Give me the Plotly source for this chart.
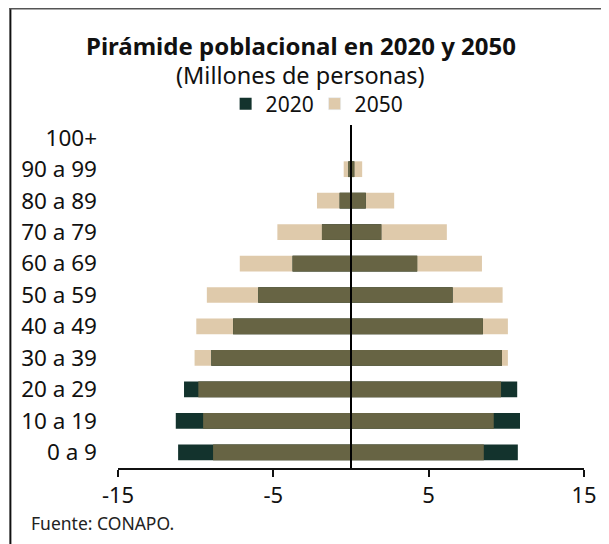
import plotly.graph_objects as go

categorias = ["0 a 9", "10 a 19", "20 a 29", "30 a 39", "40 a 49", "50 a 59",
              "60 a 69", "70 a 79", "80 a 89", "90 a 99", "100+"]
izq_2020 = [11.13, 11.28, 10.75, 8.99, 7.59, 5.97, 3.76, 1.87, 0.73, 0.17, 0.01]
izq_2050 = [8.88, 9.52, 9.83, 10.07, 9.96, 9.28, 7.16, 4.74, 2.19, 0.47, 0.03]
der_2020 = [10.74, 10.88, 10.70, 9.72, 8.49, 6.54, 4.26, 1.95, 0.95, 0.21, 0.01]
der_2050 = [8.55, 9.19, 9.66, 10.10, 10.10, 9.76, 8.43, 6.17, 2.78, 0.72, 0.04]
x_ticks = [-15, -5, 5, 15]

C2020 = "#13332d"
C2050 = "#dfcaab"
COVER = "#676444"
FONT = "Noto Sans"

fig = go.Figure()

def add(vals, color, name, show, group):
    fig.add_trace(go.Bar(y=categorias, x=vals, orientation="h", marker_color=color,
                         marker_line_width=0, name=name, showlegend=show,
                         legendgroup=group, hoverinfo="skip"))

add([-v for v in izq_2050], C2050, "2050", False, "2050")
add(der_2050, C2050, "2050", False, "2050")
add([-v for v in izq_2020], C2020, "2020", True, "2020")
add(der_2020, C2020, "2020", False, "2020")
ov_izq = [-min(a, b) for a, b in zip(izq_2020, izq_2050)]
ov_der = [min(a, b) for a, b in zip(der_2020, der_2050)]
add(ov_izq, COVER, "", False, "ov")
add(ov_der, COVER, "", False, "ov")
fig.add_trace(go.Bar(y=[None], x=[None], orientation="h", marker_color=C2050,
                     name="2050", showlegend=True, legendgroup="2050"))

# page is offset by the 8px body margin
OFF = 8
W, H = 609 - OFF, 544 - OFF
ml, mr, mt, mb = 110, 19, 114, 76
pw, ph = W - ml - mr, H - mt - mb

def px(x):
    return (x - OFF - ml) / pw

def py(y):
    return 1 - (y - OFF - mt) / ph

fig.update_layout(
    width=W, height=H, barmode="overlay", bargap=0.5,
    margin=dict(l=ml, r=mr, t=mt, b=mb),
    paper_bgcolor="white", plot_bgcolor="white",
    font=dict(family=FONT, color="#111111"),
    legend=dict(orientation="h", x=px(227), xanchor="left", y=py(104), yanchor="middle",
                font=dict(size=21, color="#111111"), traceorder="normal",
                itemwidth=30, entrywidth=44, entrywidthmode="pixels"),
    xaxis=dict(range=[-15, 15], tickvals=x_ticks, ticktext=[str(v) for v in x_ticks],
               showgrid=False, zeroline=False, showline=True, linecolor="#111111",
               linewidth=2, ticks="outside", ticklen=7, tickwidth=2, tickcolor="#111111",
               tickfont=dict(size=22, color="#111111"), fixedrange=True),
    yaxis=dict(type="category", showgrid=False, zeroline=False, showline=False,
               ticks="", tickfont=dict(size=22.5, color="#111111"), ticklabelstandoff=20),
    shapes=[
        dict(type="line", xref="x", yref="paper", x0=0, x1=0, y0=0, y1=1,
             line=dict(color="#000000", width=2), layer="above"),
        dict(type="line", xref="paper", yref="paper", x0=px(9), x1=px(9), y0=py(8), y1=py(544),
             line=dict(color="#111111", width=2)),
        dict(type="line", xref="paper", yref="paper", x0=px(8), x1=px(609), y0=py(8.8), y1=py(8.8),
             line=dict(color="#555555", width=1.6)),
    ],
    annotations=[
        dict(text="<b>Pirámide poblacional en 2020 y 2050</b>", xref="paper", yref="paper",
             x=px(303), y=py(45), xanchor="center", yanchor="middle", showarrow=False,
             font=dict(size=24, color="#111111")),
        dict(text="(Millones de personas)", xref="paper", yref="paper",
             x=px(303), y=py(75.5), xanchor="center", yanchor="middle", showarrow=False,
             font=dict(size=23.5, color="#111111")),
        dict(text="Fuente: CONAPO.", xref="paper", yref="paper",
             x=px(28), y=py(523), xanchor="left", yanchor="middle", showarrow=False,
             font=dict(size=17.5, color="#222222")),
    ],
)

fig.write_html("out.html")
